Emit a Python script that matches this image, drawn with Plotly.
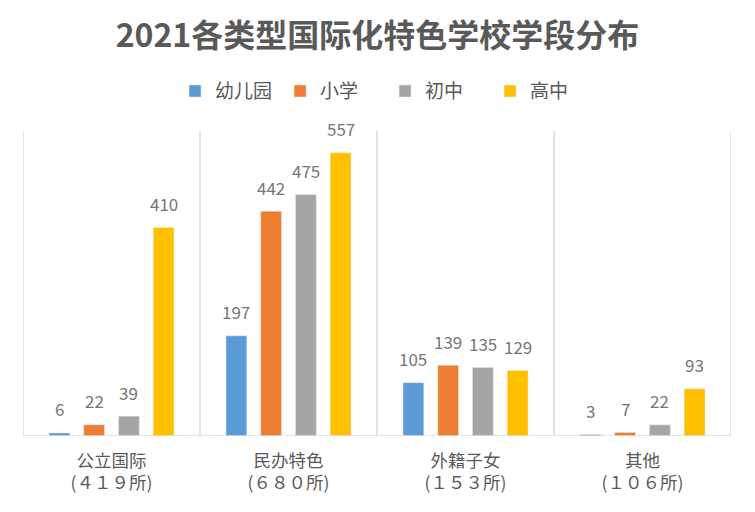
import plotly.graph_objects as go

categories = ["公立国际<br>(４１９所)", "民办特色<br>(６８０所)", "外籍子女<br>(１５３所)", "其他<br>(１０６所)"]
series_names = ["幼儿园", "小学", "初中", "高中"]
kindergarten = [6, 197, 105, 3]
primary = [22, 442, 139, 7]
middle = [39, 475, 135, 22]
high = [410, 557, 129, 93]
colors = ["#5B9BD5", "#ED7D31", "#A5A5A5", "#FFC000"]

FONT = "Noto Sans CJK SC, Microsoft YaHei, sans-serif"
BARGAP = 0.215
n = len(categories)
all_series = [kindergarten, primary, middle, high]

fig = go.Figure()
for name, vals, col in zip(series_names, all_series, colors):
    fig.add_trace(go.Bar(name=name, x=categories, y=vals, marker_color=col))

# value labels above each bar
slot = (1 - BARGAP) / len(all_series)
for j, vals in enumerate(all_series):
    for i, v in enumerate(vals):
        fig.add_annotation(x=i + (j - (len(all_series) - 1) / 2) * slot, y=v,
                           xref="x", yref="y", text=str(v), showarrow=False,
                           yanchor="middle", yshift=24,
                           font=dict(size=17, color="#767676", family=FONT))

# separators between categories
for i in range(n + 1):
    fig.add_shape(type="line", xref="x", yref="paper",
                  x0=i - 0.5, x1=i - 0.5, y0=0, y1=1,
                  line=dict(color="#D9D9D9", width=1.5), layer="below")
fig.add_shape(type="line", xref="paper", yref="y", x0=0, x1=1, y0=0, y1=0,
              line=dict(color="#D9D9D9", width=1.5))

fig.update_layout(
    width=755, height=512,
    margin=dict(l=23, r=24, t=131, b=76),
    paper_bgcolor="white", plot_bgcolor="white",
    barmode="group", bargap=BARGAP, bargroupgap=0.4,
    title=dict(text="<b>2021各类型国际化特色学校学段分布</b>",
               x=0.5, xanchor="center", y=0.93, yanchor="middle", yref="container",
               font=dict(size=32, color="#595959", family=FONT)),
    legend=dict(orientation="h", xref="container", yref="container",
                x=0.51, xanchor="center", y=0.822, yanchor="middle",
                font=dict(size=19, color="#595959", family=FONT),
                entrywidth=60, traceorder="normal"),
    xaxis=dict(range=[-0.5, n - 0.5], showgrid=False, showline=False, ticks="",
               ticklabelstandoff=12,
               tickfont=dict(size=17.5, color="#595959", family=FONT)),
    yaxis=dict(range=[0, 600], visible=False, showgrid=False),
    font=dict(family=FONT),
)
fig.write_html("out.html", config={"displayModeBar": False},
               post_script="document.body.style.margin='0';")
